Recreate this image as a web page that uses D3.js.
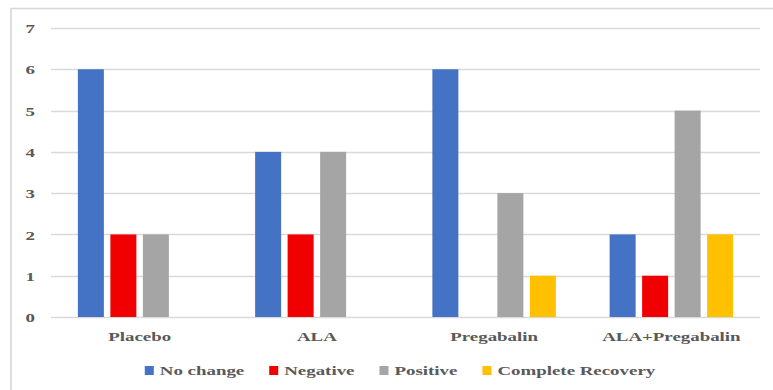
<!DOCTYPE html>
<html>
<head>
<meta charset="utf-8">
<script src="https://cdn.jsdelivr.net/npm/d3@7"></script>
<style>
  html, body { margin: 0; padding: 0; background: #fff; }
  svg { display: block; }
  text { font-family: "Liberation Serif", "Times New Roman", serif; font-weight: bold; fill: #595959; }
</style>
</head>
<body>
<svg id="chart" width="773" height="390"></svg>
<script>
// Groups along the x axis
const categories = ["Placebo", "ALA", "Pregabalin", "ALA+Pregabalin"];
// Outcome series, counts per group (same order as categories)
const seriesNames = ["No change", "Negative", "Positive", "Complete Recovery"];
const noChange = [6, 4, 6, 2];
const negative = [2, 2, 0, 1];
const positive = [2, 4, 3, 5];
const completeRecovery = [0, 0, 1, 2];
const yTicks = [0, 1, 2, 3, 4, 5, 6, 7];
const colors = ["#4472C4", "#F00000", "#A5A5A5", "#FFC000"];

const seriesValues = [noChange, negative, positive, completeRecovery];
const rows = categories.map((c, i) => ({
  category: c,
  values: seriesNames.map((s, j) => ({ series: s, value: seriesValues[j][i], color: colors[j] }))
}));

const svg = d3.select("#chart");
const W = 773, H = 390;
const plot = { left: 51, right: 760, top: 28, bottom: 317 };
const stretch = 1.4;   // wide letterforms
const fontSize = 13.5;

// Outer chart frame
svg.append("path")
  .attr("d", `M11,${H} L11,8.5 L${W},8.5`)
  .attr("fill", "none")
  .attr("stroke", "#d6d6d6")
  .attr("stroke-width", 1.6);

const y = d3.scaleLinear().domain([0, 7]).range([plot.bottom, plot.top]);
const x0 = d3.scaleBand().domain(categories).range([plot.left, plot.right]).paddingInner(0).paddingOuter(0);
const x1 = d3.scaleBand().domain(seriesNames).range([0, x0.bandwidth()]).paddingInner(0.2).paddingOuter(0.827);

// Horizontal gridlines
svg.append("g")
  .selectAll("line")
  .data(yTicks)
  .join("line")
  .attr("x1", plot.left)
  .attr("x2", plot.right)
  .attr("y1", d => Math.round(y(d)) + 0.5)
  .attr("y2", d => Math.round(y(d)) + 0.5)
  .attr("stroke", "#d9d9d9")
  .attr("stroke-width", 1.4);

// Bars
const groups = svg.append("g")
  .selectAll("g")
  .data(rows)
  .join("g")
  .attr("transform", d => `translate(${x0(d.category)},0)`);

groups.selectAll("rect")
  .data(d => d.values.filter(v => v.value > 0))
  .join("rect")
  .attr("x", d => x1(d.series))
  .attr("width", x1.bandwidth())
  .attr("y", d => y(d.value))
  .attr("height", d => y(0) - y(d.value))
  .attr("fill", d => d.color);

// Y axis labels
const yAxis = svg.append("g")
  .attr("transform", `translate(${plot.left},0)`)
  .call(d3.axisLeft(y).tickValues(yTicks).tickFormat(d3.format("d")).tickSize(0));
yAxis.select(".domain").remove();
yAxis.selectAll("text")
  .attr("x", -11.5)
  .attr("dy", "0.34em")
  .attr("transform", `scale(${stretch},1)`)
  .style("font-size", fontSize + "px")
  .style("font-family", "'Liberation Serif', serif")
  .attr("fill", "#595959");

// Category labels
const xAxis = svg.append("g")
  .attr("transform", `translate(0,${plot.bottom})`)
  .call(d3.axisBottom(x0).tickSize(0));
xAxis.select(".domain").remove();
xAxis.selectAll("text")
  .attr("y", 24)
  .attr("dy", 0)
  .attr("transform", `scale(${stretch},1)`)
  .style("font-size", fontSize + "px")
  .style("font-family", "'Liberation Serif', serif")
  .attr("fill", "#595959");
// keep label centres on the group centres after the horizontal stretch
xAxis.selectAll(".tick").each(function(d) {
  const cx = x0(d) + x0.bandwidth() / 2;
  d3.select(this).attr("transform", `translate(${cx},0)`);
});

// Legend
const legend = svg.append("g");
const items = legend.selectAll("g")
  .data(seriesNames.map((s, i) => ({ name: s, color: colors[i] })))
  .join("g");
items.append("rect")
  .attr("width", 9)
  .attr("height", 9)
  .attr("y", -9)
  .attr("fill", d => d.color);
items.append("text")
  .attr("transform", `translate(15,0) scale(${stretch},1)`)
  .style("font-size", fontSize + "px")
  .text(d => d.name);

let offset = 0;
const gap = 25;
items.each(function() {
  const g = d3.select(this);
  const w = 15 + g.select("text").node().getComputedTextLength() * stretch;
  g.attr("transform", `translate(${offset},0)`);
  offset += w + gap;
});
const legendWidth = offset - gap;
legend.attr("transform", `translate(${400 - legendWidth / 2},375)`);
</script>
</body>
</html>
